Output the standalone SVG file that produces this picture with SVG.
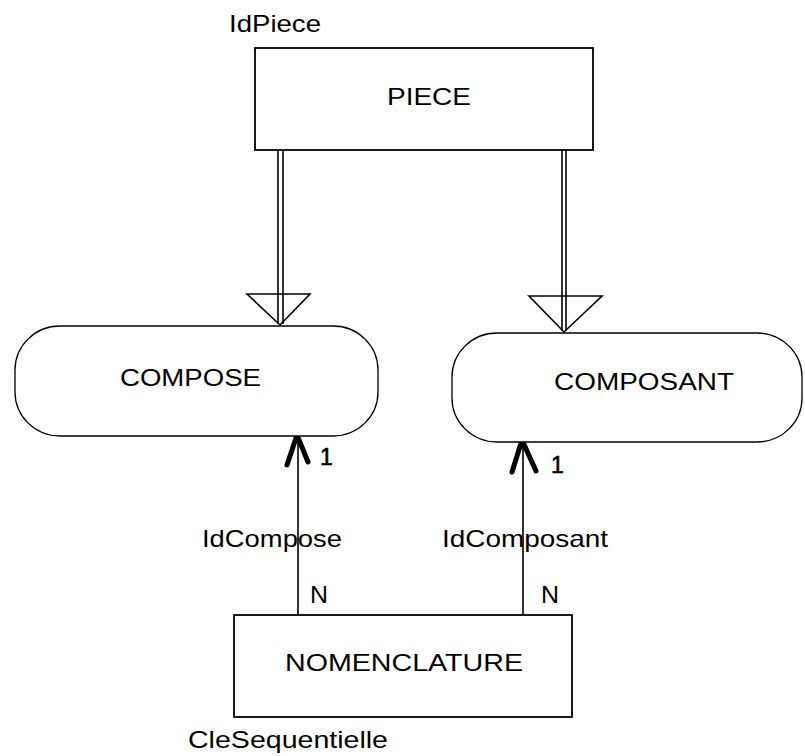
<svg xmlns="http://www.w3.org/2000/svg" width="805" height="756" viewBox="0 0 805 756">
  <style>
    .box { fill: #fff; stroke: #000; stroke-width: 1.8; }
    .round { fill: #fff; stroke: #000; stroke-width: 1.3; }
    .t { font-family: "Liberation Sans", Arial, sans-serif; font-size: 24px; fill: #000; }
    .one { font-size: 23px; stroke: #000; stroke-width: 0.6; }
    .ln { stroke: #000; stroke-width: 1.6; fill: none; }
    .head { fill: none; stroke: #000; stroke-width: 1.6; stroke-linejoin: miter; }
    .card { fill: none; stroke: #000; stroke-width: 5; stroke-linecap: round; stroke-linejoin: round; }
  </style>
  <rect width="805" height="756" fill="#fff"/>

  <!-- connectors -->
  <g id="connectors">
    <!-- PIECE to COMPOSE -->
    <line class="ln" x1="278" y1="150" x2="278" y2="324"/>
    <line class="ln" x1="283" y1="150" x2="283" y2="324"/>
    <polygon class="head" points="247,294 310,294 280,325"/>
    <!-- PIECE to COMPOSANT -->
    <line class="ln" x1="562" y1="150" x2="562" y2="331"/>
    <line class="ln" x1="566" y1="150" x2="566" y2="331"/>
    <polygon class="head" points="529,296 602,296 564,332"/>
    <!-- NOMENCLATURE to COMPOSE -->
    <line class="ln" x1="298" y1="437" x2="298" y2="615"/>
    <polyline class="card" points="287,465 297,435 308,462"/>
    <text class="t one" x="320" y="465">1</text>
    <text class="t" x="202" y="547" textLength="140" lengthAdjust="spacingAndGlyphs">IdCompose</text>
    <text class="t" x="310" y="603" textLength="18" lengthAdjust="spacingAndGlyphs">N</text>
    <!-- NOMENCLATURE to COMPOSANT -->
    <line class="ln" x1="523" y1="440" x2="523" y2="615"/>
    <polyline class="card" points="512,472 522,440 536,471"/>
    <text class="t one" x="551" y="473">1</text>
    <text class="t" x="442" y="547" textLength="166" lengthAdjust="spacingAndGlyphs">IdComposant</text>
    <text class="t" x="541" y="603" textLength="18" lengthAdjust="spacingAndGlyphs">N</text>
  </g>

  <g id="piece">
    <rect class="box" x="255" y="48" width="338" height="102"/>
    <text class="t" x="387" y="105" textLength="84" lengthAdjust="spacingAndGlyphs">PIECE</text>
    <text class="t" x="229" y="32" textLength="92" lengthAdjust="spacingAndGlyphs">IdPiece</text>
  </g>

  <g id="compose">
    <rect class="round" x="15" y="326" width="363" height="110" rx="45" ry="44"/>
    <text class="t" x="120" y="386" textLength="141" lengthAdjust="spacingAndGlyphs">COMPOSE</text>
  </g>

  <g id="composant">
    <rect class="round" x="452" y="333" width="350" height="109" rx="45" ry="44"/>
    <text class="t" x="554" y="390" textLength="180" lengthAdjust="spacingAndGlyphs">COMPOSANT</text>
  </g>

  <g id="nomenclature">
    <rect class="box" x="234" y="615" width="338" height="102"/>
    <text class="t" x="285" y="671" textLength="238" lengthAdjust="spacingAndGlyphs">NOMENCLATURE</text>
    <text class="t" x="188" y="748" textLength="200" lengthAdjust="spacingAndGlyphs">CleSequentielle</text>
  </g>
</svg>
